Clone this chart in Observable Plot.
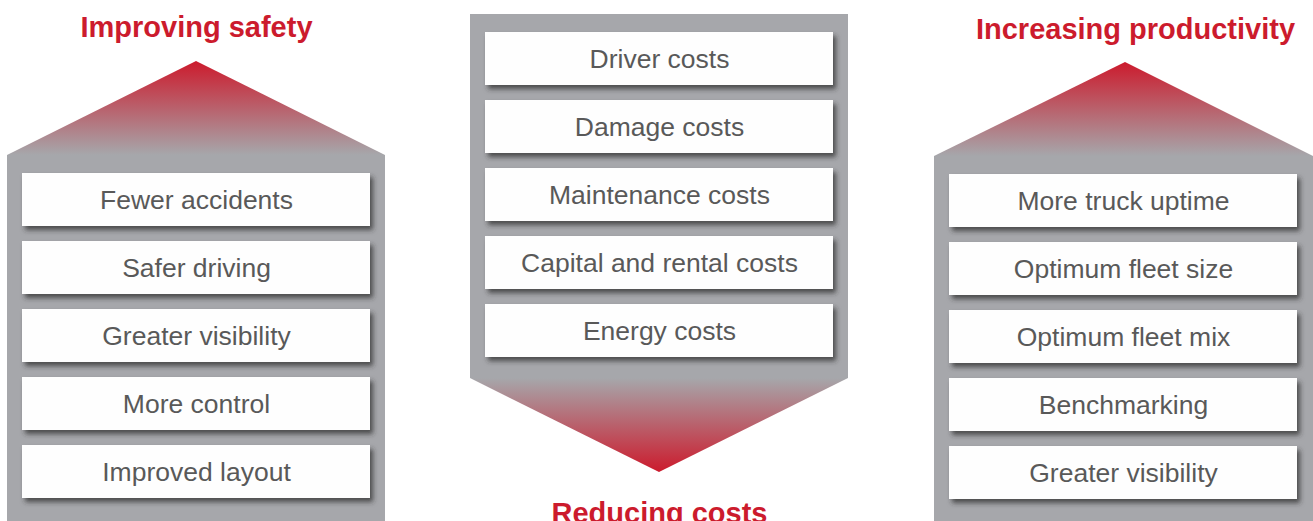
<!DOCTYPE html>
<html>
<head>
<meta charset="utf-8">
<script src="https://cdn.jsdelivr.net/npm/d3@7"></script>
<script src="https://cdn.jsdelivr.net/npm/@observablehq/plot@0.6"></script>
<style>
  html, body { margin: 0; padding: 0; background: #ffffff; }
  #chart svg { display: block; }
</style>
</head>
<body>
<div id="chart"></div>
<script>
// ---- Data ----
const panelTitles = ["Improving safety", "Reducing costs", "Increasing productivity"];
const safetyItems = ["Fewer accidents", "Safer driving", "Greater visibility", "More control", "Improved layout"];
const costItems = ["Driver costs", "Damage costs", "Maintenance costs", "Capital and rental costs", "Energy costs"];
const productivityItems = ["More truck uptime", "Optimum fleet size", "Optimum fleet mix", "Benchmarking", "Greater visibility"];

// ---- Layout (pixels) ----
const W = 1313, H = 521;
const RED = "#cc1b2d", GRAY = "#a6a7ab", TEXT = "#595959", BOXFILL = "#fefefe";
const FONT = "Liberation Sans, Arial, Helvetica, sans-serif";
const panels = [
  {title: panelTitles[0], items: safetyItems, x0: 7, x1: 385, top: 155, bottom: 521, arrow: "up", tip: 61, cx: 196, titleY: 36, bx0: 22, bx1: 370, firstBox: 173},
  {title: panelTitles[1], items: costItems, x0: 470, x1: 848, top: 14, bottom: 378, arrow: "down", tip: 472, cx: 659, titleY: 522, bx0: 485, bx1: 833, firstBox: 32},
  {title: panelTitles[2], items: productivityItems, x0: 934, x1: 1313, top: 156, bottom: 521, arrow: "up", tip: 62, cx: 1125, titleX: 1135, titleY: 38, bx0: 949, bx1: 1297, firstBox: 174}
];
const PITCH = 68, BOXH = 53;
const BOX_FS = 26.5, TITLE_FS = 29;

// derived mark data
const bodies = panels.map(p => ({x1: p.x0, x2: p.x1, y1: p.top, y2: p.bottom}));
const upRoofs = panels.filter(p => p.arrow === "up").flatMap(p => [
  {panel: p.title, x: p.x0, base: p.top, y: p.top},
  {panel: p.title, x: p.cx, base: p.top, y: p.tip},
  {panel: p.title, x: p.x1, base: p.top, y: p.top}
]);
const downArrows = panels.filter(p => p.arrow === "down").flatMap(p => [
  {panel: p.title, x: p.x0, base: p.bottom, y: p.bottom},
  {panel: p.title, x: p.cx, base: p.bottom, y: p.tip},
  {panel: p.title, x: p.x1, base: p.bottom, y: p.bottom}
]);
const boxes = panels.flatMap(p => p.items.map((label, i) => {
  const y1 = p.firstBox + i * PITCH;
  return {label, x1: p.bx0, x2: p.bx1, y1, y2: y1 + BOXH, cx: (p.bx0 + p.bx1) / 2, cy: y1 + BOXH / 2 + 1};
}));
const titles = panels.map(p => ({text: p.title, x: p.titleX ?? p.cx, y: p.titleY - 0.32 * TITLE_FS}));

const chart = Plot.plot({
  width: W,
  height: H,
  margin: 0,
  x: {domain: [0, W], range: [0, W], axis: null},
  y: {domain: [0, H], range: [0, H], axis: null},
  style: {background: "#ffffff", overflow: "hidden"},
  marks: [
    Plot.rect(bodies, {x1: "x1", x2: "x2", y1: "y1", y2: "y2", fill: GRAY}),
    Plot.area(upRoofs, {x1: "x", y1: "base", y2: "y", z: "panel", fill: "url(#gradUp)", curve: "linear"}),
    Plot.area(downArrows, {x1: "x", y1: "base", y2: "y", z: "panel", fill: "url(#gradDown)", curve: "linear"}),
    Plot.rect(boxes, {x1: "x1", x2: "x2", y1: "y1", y2: "y2", fill: BOXFILL, ariaLabel: "box"}),
    Plot.text(boxes, {x: "cx", y: "cy", text: "label", fill: TEXT, fontSize: BOX_FS, fontFamily: FONT, textAnchor: "middle", lineAnchor: "middle"}),
    Plot.text(titles, {x: "x", y: "y", text: "text", fill: RED, fontSize: TITLE_FS, fontWeight: "bold", fontFamily: FONT, textAnchor: "middle", lineAnchor: "middle"})
  ]
});

// gradients and shadow
const svg = d3.select(chart);
const defs = svg.insert("defs", ":first-child");
const gUp = defs.append("linearGradient").attr("id", "gradUp").attr("x1", 0).attr("y1", 0).attr("x2", 0).attr("y2", 1);
gUp.append("stop").attr("offset", "0%").attr("stop-color", RED);
gUp.append("stop").attr("offset", "100%").attr("stop-color", GRAY);
const gDown = defs.append("linearGradient").attr("id", "gradDown").attr("x1", 0).attr("y1", 0).attr("x2", 0).attr("y2", 1);
gDown.append("stop").attr("offset", "0%").attr("stop-color", GRAY);
gDown.append("stop").attr("offset", "100%").attr("stop-color", RED);
const f = defs.append("filter").attr("id", "boxShadow")
  .attr("filterUnits", "userSpaceOnUse").attr("x", 0).attr("y", 0).attr("width", W).attr("height", H);
f.append("feDropShadow").attr("dx", 3).attr("dy", 4).attr("stdDeviation", 2.5).attr("flood-color", "#2e2e2e").attr("flood-opacity", 0.75);
const boxGroups = svg.selectAll("g").filter(function () {
  return this.getAttribute("aria-label") === "box" || (this.getAttribute("fill") || "").toLowerCase() === BOXFILL;
});
boxGroups.selectAll("rect").attr("filter", "url(#boxShadow)");

document.getElementById("chart").appendChild(chart);
</script>
</body>
</html>
